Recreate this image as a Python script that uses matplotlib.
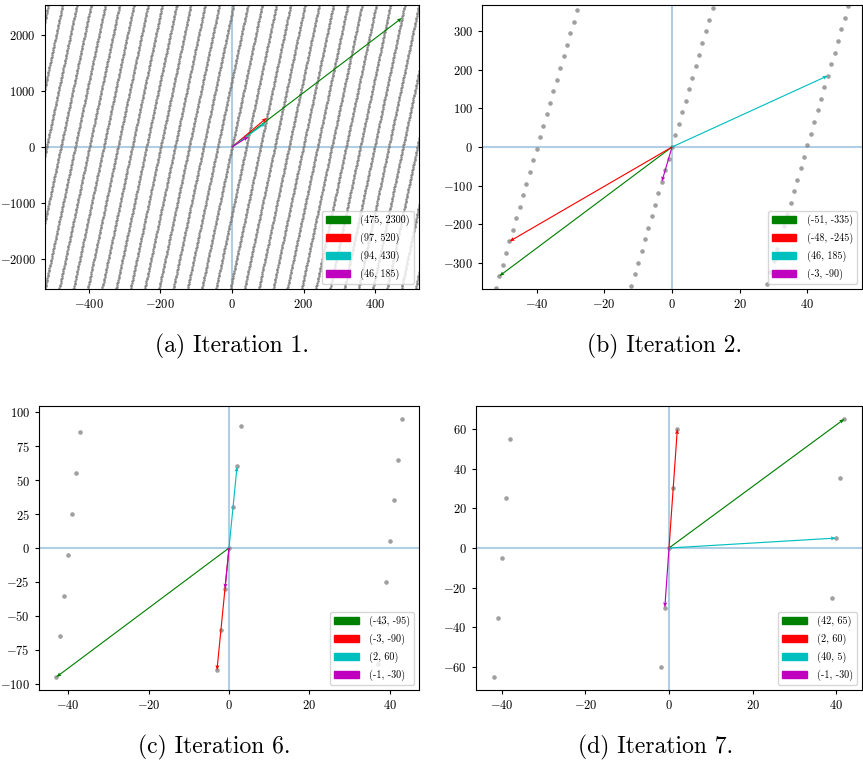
import matplotlib
matplotlib.use('Agg')
import matplotlib.pyplot as plt
import matplotlib.patches as mpatches
from matplotlib.ticker import MultipleLocator
import numpy as np

# fonts: computer modern look
plt.rcParams['font.family'] = 'cmr10'
plt.rcParams['mathtext.fontset'] = 'cm'
plt.rcParams['axes.formatter.use_mathtext'] = True

# lattice generators
GEN1 = (1, 30)
GEN2 = (40, 5)

# reduced basis at each shown iteration
captions = ['(a) Iteration 1.', '(b) Iteration 2.', '(c) Iteration 6.', '(d) Iteration 7.']
vx = [[475, 97, 94, 46],
      [-51, -48, 46, -3],
      [-43, -3, 2, -1],
      [42, 2, 40, -1]]
vy = [[2300, 520, 430, 185],
      [-335, -245, 185, -90],
      [-95, -90, 60, -30],
      [65, 60, 5, -30]]
colors = ['g', 'r', 'c', 'm']

# tick spacing for each panel
xstep = [200, 20, 20, 20]
ystep = [1000, 100, 25, 20]
dotsize = [1.8, 3.3, 3.3, 3.3]
dotalpha = [0.9, 0.75, 0.75, 0.75]

# axes boxes in pixels (left, right, top, bottom)
W, H = 863, 763
boxes = [(45, 419, 5, 289), (482, 862, 5, 289),
         (39, 419, 406, 690), (476, 862, 406, 690)]
cap_pos = [(232, 346), (665, 346), (214, 747), (656, 747)]

fig = plt.figure(figsize=(W / 100., H / 100.), dpi=100)

ii, jj = np.meshgrid(np.arange(-120, 121), np.arange(-20, 21))
lx = (ii * GEN1[0] + jj * GEN2[0]).ravel()
ly = (ii * GEN1[1] + jj * GEN2[1]).ravel()

for k in range(4):
    l, r, t, b = boxes[k]
    ax = fig.add_axes([l / W, 1 - b / H, (r - l) / W, (b - t) / H])
    xl = 1.1 * max(abs(v) for v in vx[k])
    yl = 1.1 * max(abs(v) for v in vy[k])
    ax.axhline(0, color='C0', alpha=0.35, lw=1.5, zorder=1)
    ax.axvline(0, color='C0', alpha=0.35, lw=1.5, zorder=1)
    msk = (np.abs(lx) <= xl * 1.05) & (np.abs(ly) <= yl * 1.05)
    ax.plot(lx[msk], ly[msk], 'o', color='gray', alpha=dotalpha[k],
            ms=dotsize[k], mew=0, zorder=2)
    handles = []
    for n in range(4):
        ax.quiver(0, 0, vx[k][n], vy[k][n], color=colors[n], angles='xy',
                  scale_units='xy', scale=1, width=0.003, headwidth=3.5,
                  headlength=4.5, headaxislength=4, zorder=3 + n)
        handles.append(mpatches.Patch(color=colors[n],
                                      label='(%d, %d)' % (vx[k][n], vy[k][n])))
    ax.set_xlim(-xl, xl)
    ax.set_ylim(-yl, yl)
    ax.xaxis.set_major_locator(MultipleLocator(xstep[k]))
    ax.yaxis.set_major_locator(MultipleLocator(ystep[k]))
    ax.tick_params(labelsize=9, length=3)
    leg = ax.legend(handles=handles, loc='lower right', fontsize=7.3,
                    handlelength=2.4, labelspacing=0.65, handletextpad=1.0)
    leg.set_zorder(10)
    cx, cy = cap_pos[k]
    fig.text(cx / W, 1 - cy / H, captions[k], ha='center', va='center', fontsize=17)

plt.savefig('out.png', dpi=100)
